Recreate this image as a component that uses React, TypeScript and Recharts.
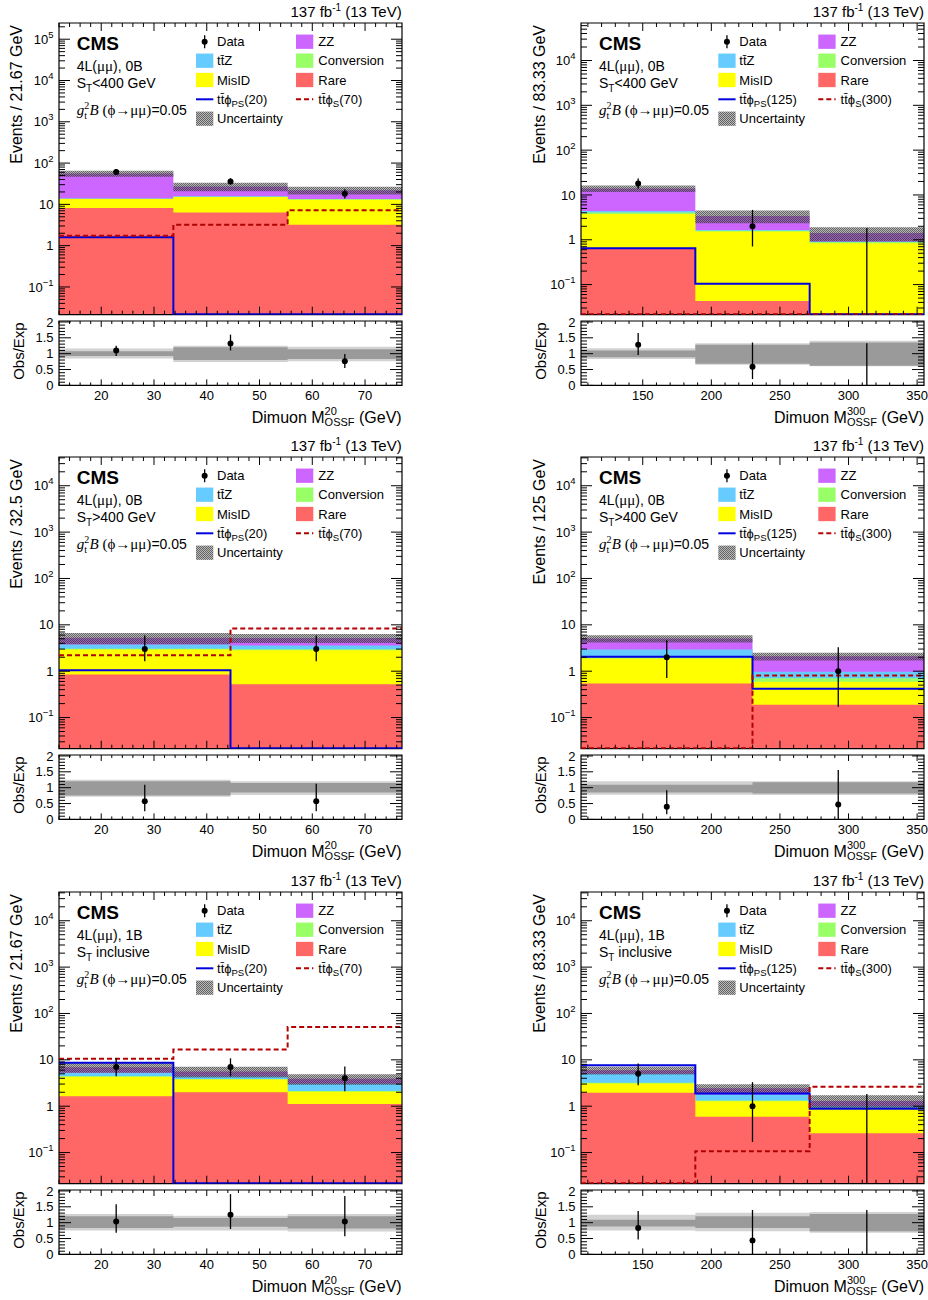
import React from 'react';
import { ComposedChart, Area, Line, Scatter, ErrorBar, XAxis, YAxis, ReferenceArea } from 'recharts';

const SANS = '"Liberation Sans", Arial, Helvetica, sans-serif';
const SERIF = '"Liberation Serif", "Times New Roman", serif';

// ---------------- binning / ticks ----------------
const EDGES_LOW3 = [12, 33.67, 55.33, 77];
const EDGES_LOW2 = [12, 44.5, 77];
const EDGES_HIGH3 = [105, 188.33, 271.67, 355];
const EDGES_HIGH2 = [105, 230, 355];
const PANEL_EDGES = [EDGES_LOW3, EDGES_HIGH3, EDGES_LOW2, EDGES_HIGH2, EDGES_LOW3, EDGES_HIGH3];

const X_MAJOR_LOW = [20, 30, 40, 50, 60, 70];
const X_MAJOR_HIGH = [150, 200, 250, 300, 350];
const X_MINOR_STEP = [2, 10];
const RATIO_MAJOR = [0, 0.5, 1, 1.5, 2];
const RATIO_LABELS = ['0', '0.5', '1', '1.5', '2'];

// ---------------- backgrounds (per panel, per bin) ----------------
const RARE = [[8.2, 6.4, 3.2], [0.63, 0.043, 0], [0.85, 0.52], [0.54, 0.19], [1.64, 2.0, 1.12], [1.94, 0.59, 0.26]];
const MISID = [[5.3, 8.7, 9.8], [3.12, 1.49, 0.84], [2.09, 2.32], [1.34, 0.4], [2.66, 1.76, 0.92], [1.15, 0.69, 0.62]];
const CONV = [[0.2, 0.3, 0.3], [0.32, 0.06, 0.05], [0.1, 0.15], [0.1, 0.11], [0.1, 0.1, 0.08], [0.1, 0.05, 0.02]];
const TTZ = [[0.25, 0.3, 0.2], [0.3, 0.06, 0.02], [0.72, 0.6], [0.96, 0.27], [0.85, 0.54, 0.92], [1.79, 0.46, 0.1]];
const ZZ = [[42, 11.3, 8.6], [9.6, 1.75, 0.5], [1.49, 1.6], [2.13, 1.13], [1.7, 1.2, 0.85], [1.0, 0.64, 0.3]];
const UNC = [[9, 6.3, 4.7], [2.3, 1.07, 0.5], [1.45, 1.15], [0.9, 0.4], [1.7, 1.45, 1.0], [1.15, 0.55, 0.42]];

// ---------------- signals ----------------
const SIG_PS = [[1.59, 0, 0], [0.65, 0.104, 0], [1.05, 0], [2.04, 0.42], [8.6, 0, 0], [7.65, 1.88, 0.88]];
const SIG_S = [[1.75, 3.2, 7.2], [0, 0, 0], [2.2, 8.3], [0, 0.81], [10.5, 16.7, 51], [0, 0.107, 2.62]];

// ---------------- data ----------------
const DATA = [[61, 36, 18], [18, 2, 0], [3, 3], [2, 1], [7, 7, 4], [5, 1, 0]];
const DATA_LO = [[7.8, 6.0, 4.2], [4.2, 1.29, 0], [1.37, 1.37], [1.29, 0.83], [2.58, 2.58, 1.91], [2.16, 0.83, 0]];
const DATA_HI = [[8.8, 7.0, 5.3], [5.3, 2.64, 1.84], [2.92, 2.92], [2.64, 2.3], [3.77, 3.77, 3.16], [3.38, 2.3, 1.84]];

// ---------------- ratio ----------------
const RATIO = [[1.1, 1.32, 0.76], [1.28, 0.59, 0], [0.57, 0.57], [0.4, 0.47], [1.04, 1.25, 1.04], [0.83, 0.44, 0]];
const RATIO_LO = [[0.17, 0.22, 0.21], [0.32, 0.39, 0], [0.31, 0.31], [0.24, 0.47], [0.36, 0.45, 0.47], [0.36, 0.44, 0]];
const RATIO_HI = [[0.15, 0.28, 0.23], [0.37, 0.76, 1.33], [0.52, 0.55], [0.52, 1.09], [0.54, 0.65, 0.8], [0.54, 0.96, 1.4]];
const BAND_OUT = [
  [[0.85, 1.16], [0.74, 1.25], [0.76, 1.22]],
  [[0.83, 1.17], [0.65, 1.33], [0.6, 1.41]],
  [[0.71, 1.25], [0.77, 1.2]],
  [[0.78, 1.2], [0.77, 1.2]],
  [[0.75, 1.27], [0.75, 1.22], [0.72, 1.27]],
  [[0.75, 1.25], [0.73, 1.31], [0.68, 1.34]],
];
const BAND_IN = [
  [[0.93, 1.08], [0.8, 1.2], [0.83, 1.14]],
  [[0.89, 1.1], [0.68, 1.28], [0.62, 1.35]],
  [[0.75, 1.2], [0.85, 1.15]],
  [[0.85, 1.09], [0.82, 1.17]],
  [[0.83, 1.2], [0.87, 1.15], [0.82, 1.2]],
  [[0.88, 1.09], [0.83, 1.2], [0.73, 1.27]],
];

// ---------------- texts ----------------
const CATEGORY = ['0B', '0B', '0B', '0B', '1B', '1B'];
const ST_TEXT = ['<400 GeV', '<400 GeV', '>400 GeV', '>400 GeV', ' inclusive', ' inclusive'];
const Y_TITLES = ['Events / 21.67 GeV', 'Events / 83.33 GeV', 'Events / 32.5 GeV', 'Events / 125 GeV', 'Events / 21.67 GeV', 'Events / 83.33 GeV'];
const PS_MASS = ['20', '125', '20', '125', '20', '125'];
const S_MASS = ['70', '300', '70', '300', '70', '300'];
const X_SUP = ['20', '300', '20', '300', '20', '300'];
const PHI = '\u03d5';

// ---------------- colours ----------------
const C_RARE = '#ff6666';
const C_MISID = '#ffff00';
const C_CONV = '#99ff66';
const C_TTZ = '#66ccff';
const C_ZZ = '#cc66ff';
const C_PS = '#0000dd';
const C_S = '#b40000';
const C_BAND_OUT = '#d2d2d2';
const C_BAND_IN = '#9a9a9a';

// ---------------- layout ----------------
const COL_FL = [58.7, 581];
const ROW_FT = [23.3, 457.3, 892.3];
const PW = 343;
const MPH = 291.7;
const RPH = 64.4;
const RGAP = 298;
const YAW = 60;
const PT = 6;
const PR = 8;
const PB = 6;
const RPB = 24;
const TM = 4;
const YMIN = 0.0213;
const YMAX = [2.47e5, 6.87e4, 4.17e4, 4.17e4, 4.17e4, 4.17e4];
const RMAX = 2.03;

const fl = (v: number) => Math.max(v, YMIN);
const lf = (v: number) => (v > 0 ? v : YMIN * 1.02);

function xTicksFor(p: number) {
  const col = p % 2;
  const edges = PANEL_EDGES[p];
  const step = X_MINOR_STEP[col];
  const lo = edges[0];
  const hi = edges[edges.length - 1];
  const out: number[] = [];
  for (let k = Math.ceil(lo / step); k * step <= hi + 1e-9; k++) out.push(k * step);
  return out;
}

function logTicks(ymax: number) {
  const out: number[] = [];
  for (let e = -2; e <= 6; e++) {
    for (let m = 1; m <= 9; m++) {
      const v = Number((m * Math.pow(10, e)).toPrecision(6));
      if (v >= YMIN && v <= ymax) out.push(v);
    }
  }
  return out;
}

const RATIO_TICKS: number[] = [];
for (let k = 0; k <= 20; k++) RATIO_TICKS.push(k / 10);

const xTickFactory = (plotH: number, majors: number[], showLabels: boolean, majLen: number, minLen: number) =>
  (props: any) => {
    const { x, y, payload } = props;
    const v = payload.value;
    const ay = y - TM;
    const major = majors.some((m) => Math.abs(m - v) < 1e-6);
    const len = major ? majLen : minLen;
    return (
      <g>
        <line x1={x} x2={x} y1={ay} y2={ay - len} stroke="#000" strokeWidth={1} />
        <line x1={x} x2={x} y1={ay - plotH} y2={ay - plotH + len} stroke="#000" strokeWidth={1} />
        {showLabels && major ? (
          <text x={x} y={ay + 14.5} textAnchor="middle" fontFamily={SANS} fontSize={13} fill="#000">
            {v}
          </text>
        ) : null}
      </g>
    );
  };

const logYTick = (props: any) => {
  const { x, y, payload } = props;
  const v = payload.value;
  const ax = x + TM;
  const e = Math.round(Math.log10(v));
  const major = Math.abs(v / Math.pow(10, e) - 1) < 1e-6;
  const len = major ? 11 : 6;
  let label: any = null;
  if (major) {
    if (e === 0 || e === 1) {
      label = (
        <text x={ax - 5.5} y={y + 4.6} textAnchor="end" fontFamily={SANS} fontSize={13} fill="#000">
          {e === 0 ? '1' : '10'}
        </text>
      );
    } else {
      label = (
        <text x={ax - 5.5} y={y + 4.6} textAnchor="end" fontFamily={SANS} fontSize={13} fill="#000">
          10
          <tspan dy={-6} fontSize={9.5}>{e < 0 ? '\u2212' + Math.abs(e) : String(e)}</tspan>
        </text>
      );
    }
  }
  return (
    <g>
      <line x1={ax} x2={ax + len} y1={y} y2={y} stroke="#000" strokeWidth={1} />
      <line x1={ax + PW} x2={ax + PW - len} y1={y} y2={y} stroke="#000" strokeWidth={1} />
      {label}
    </g>
  );
};

const ratioYTick = (props: any) => {
  const { x, y, payload } = props;
  const v = payload.value;
  const ax = x + TM;
  const idx = RATIO_MAJOR.findIndex((m) => Math.abs(m - v) < 1e-6);
  const len = idx >= 0 ? 12 : 6;
  return (
    <g>
      <line x1={ax} x2={ax + len} y1={y} y2={y} stroke="#000" strokeWidth={1} />
      <line x1={ax + PW} x2={ax + PW - len} y1={y} y2={y} stroke="#000" strokeWidth={1} />
      {idx >= 0 ? (
        <text x={ax - 5.5} y={y + 4.6} textAnchor="end" fontFamily={SANS} fontSize={13} fill="#000">
          {RATIO_LABELS[idx]}
        </text>
      ) : null}
    </g>
  );
};

const dotShape = (props: any) => <circle cx={props.cx} cy={props.cy} r={3} fill="#000" />;
const noShape = () => <g />;

function MainChart({ p }: { p: number }) {
  const edges = PANEL_EDGES[p];
  const n = edges.length - 1;
  const rows = edges.map((x, i) => {
    const b = Math.min(i, n - 1);
    const c0 = RARE[p][b];
    const c1 = c0 + MISID[p][b];
    const c2 = c1 + CONV[p][b];
    const c3 = c2 + TTZ[p][b];
    const c4 = c3 + ZZ[p][b];
    return {
      x,
      zz: fl(c4),
      ttz: fl(c3),
      conv: fl(c2),
      misid: fl(c1),
      rare: fl(c0),
      unc: [fl(c4 - UNC[p][b]), c4 + UNC[p][b]],
      ps: lf(SIG_PS[p][b]),
      sig: lf(SIG_S[p][b]),
    };
  });
  const centers = DATA[p].map((_, i) => (edges[i] + edges[i + 1]) / 2);
  const pts = DATA[p]
    .map((d, i) => ({ x: centers[i], y: d, err: [DATA_LO[p][i], DATA_HI[p][i]] }))
    .filter((d) => d.y > 0);
  const zeros = DATA[p]
    .map((d, i) => ({ x: centers[i], y: YMIN, err: [0, DATA_HI[p][i] - YMIN], raw: d }))
    .filter((d) => d.raw === 0);
  const col = p % 2;
  const majors = col === 0 ? X_MAJOR_LOW : X_MAJOR_HIGH;
  const xmin = edges[0];
  const xmax = edges[n];
  const ymax = YMAX[p];
  const flx = COL_FL[col];
  const ft = ROW_FT[Math.floor(p / 2)];
  const areaCommon = { type: 'stepAfter' as const, baseValue: YMIN, stroke: 'none', fillOpacity: 1, isAnimationActive: false, dot: false, activeDot: false };
  return (
    <div style={{ position: 'absolute', left: flx - YAW, top: ft - PT }}>
      <ComposedChart width={YAW + PW + PR} height={PT + MPH + PB} data={rows} margin={{ top: PT, right: PR, bottom: 0, left: 0 }}>
        <Area dataKey="zz" fill={C_ZZ} {...areaCommon} />
        <Area dataKey="ttz" fill={C_TTZ} {...areaCommon} />
        <Area dataKey="conv" fill={C_CONV} {...areaCommon} />
        <Area dataKey="misid" fill={C_MISID} {...areaCommon} />
        <Area dataKey="rare" fill={C_RARE} {...areaCommon} />
        <Area dataKey="unc" type="stepAfter" fill="url(#hatchUnc)" fillOpacity={1} stroke="none" isAnimationActive={false} dot={false} activeDot={false} />
        <Line dataKey="ps" type="stepAfter" stroke={C_PS} strokeWidth={2} dot={false} activeDot={false} isAnimationActive={false} />
        <Line dataKey="sig" type="stepAfter" stroke={C_S} strokeWidth={2} strokeDasharray="5 3" dot={false} activeDot={false} isAnimationActive={false} />
        <Scatter data={pts} dataKey="y" fill="#000" shape={dotShape} isAnimationActive={false}>
          <ErrorBar dataKey="err" direction="y" width={0} stroke="#000" strokeWidth={1.3} />
        </Scatter>
        <Scatter data={zeros} dataKey="y" fill="#000" shape={noShape} isAnimationActive={false}>
          <ErrorBar dataKey="err" direction="y" width={0} stroke="#000" strokeWidth={1.3} />
        </Scatter>
        <ReferenceArea x1={xmin} x2={xmax} y1={YMIN} y2={ymax} fill="none" stroke="#000" strokeWidth={1.2} ifOverflow="visible" />
        <XAxis dataKey="x" type="number" domain={[xmin, xmax]} allowDataOverflow ticks={xTicksFor(p)} interval={0} height={PB}
          tickSize={0} tickMargin={TM} axisLine={false} tickLine={false} tick={xTickFactory(MPH, majors, false, 8, 4)} />
        <YAxis type="number" scale="log" domain={[YMIN, ymax]} allowDataOverflow ticks={logTicks(ymax)} interval={0} width={YAW}
          tickSize={0} tickMargin={TM} axisLine={false} tickLine={false} tick={logYTick} />
      </ComposedChart>
    </div>
  );
}

function RatioChart({ p }: { p: number }) {
  const edges = PANEL_EDGES[p];
  const n = edges.length - 1;
  const rows = edges.map((x, i) => {
    const b = Math.min(i, n - 1);
    return { x, out: BAND_OUT[p][b], inn: BAND_IN[p][b] };
  });
  const centers = RATIO[p].map((_, i) => (edges[i] + edges[i + 1]) / 2);
  const pts = RATIO[p]
    .map((r, i) => ({ x: centers[i], y: r, err: [RATIO_LO[p][i], RATIO_HI[p][i]] }))
    .filter((d) => d.y > 0);
  const zeros = RATIO[p]
    .map((r, i) => ({ x: centers[i], y: 0, err: [0, RATIO_HI[p][i]], raw: r }))
    .filter((d) => d.raw === 0);
  const col = p % 2;
  const majors = col === 0 ? X_MAJOR_LOW : X_MAJOR_HIGH;
  const xmin = edges[0];
  const xmax = edges[n];
  const flx = COL_FL[col];
  const rt = ROW_FT[Math.floor(p / 2)] + RGAP;
  return (
    <div style={{ position: 'absolute', left: flx - YAW, top: rt - PT }}>
      <ComposedChart width={YAW + PW + PR} height={PT + RPH + RPB} data={rows} margin={{ top: PT, right: PR, bottom: 0, left: 0 }}>
        <Area dataKey="out" type="stepAfter" fill={C_BAND_OUT} fillOpacity={1} stroke="none" isAnimationActive={false} dot={false} activeDot={false} />
        <Area dataKey="inn" type="stepAfter" fill={C_BAND_IN} fillOpacity={1} stroke="none" isAnimationActive={false} dot={false} activeDot={false} />
        <Scatter data={pts} dataKey="y" fill="#000" shape={dotShape} isAnimationActive={false}>
          <ErrorBar dataKey="err" direction="y" width={0} stroke="#000" strokeWidth={1.3} />
        </Scatter>
        <Scatter data={zeros} dataKey="y" fill="#000" shape={noShape} isAnimationActive={false}>
          <ErrorBar dataKey="err" direction="y" width={0} stroke="#000" strokeWidth={1.3} />
        </Scatter>
        <ReferenceArea x1={xmin} x2={xmax} y1={0} y2={RMAX} fill="none" stroke="#000" strokeWidth={1.2} ifOverflow="visible" />
        <XAxis dataKey="x" type="number" domain={[xmin, xmax]} allowDataOverflow ticks={xTicksFor(p)} interval={0} height={RPB}
          tickSize={0} tickMargin={TM} axisLine={false} tickLine={false} tick={xTickFactory(RPH, majors, true, 6, 3)} />
        <YAxis type="number" domain={[0, RMAX]} allowDataOverflow ticks={RATIO_TICKS} interval={0} width={YAW}
          tickSize={0} tickMargin={TM} axisLine={false} tickLine={false} tick={ratioYTick} />
      </ComposedChart>
    </div>
  );
}

function TTbar() {
  return <tspan>t{'t\u0304'}</tspan>;
}

function PanelText({ p }: { p: number }) {
  const col = p % 2;
  const fx = COL_FL[col];
  const ft = ROW_FT[Math.floor(p / 2)];
  const fr = fx + PW;
  const rt = ft + RGAP;
  const rb = rt + RPH;
  const rowsY = [18.4, 37.4, 56.7, 76, 95.4].map((d) => ft + d);
  const c1 = fx + 137.3;
  const c2 = fx + 237.3;
  const t1 = fx + 158.3;
  const t2 = fx + 259.6;
  const sq = (x: number, cy: number, fill: string) => <rect x={x} y={cy - 7.15} width={17.3} height={14.3} fill={fill} />;
  const lt = (x: number, cy: number, content: any) => (
    <text x={x} y={cy + 4.6} fontFamily={SANS} fontSize={13} fill="#000">{content}</text>
  );
  const supW = X_SUP[p].length * 0.556 * 11;
  return (
    <g>
      <text x={fr} y={ft - 6} textAnchor="end" fontFamily={SANS} fontSize={15} fill="#000">
        137 fb<tspan dy={-6} fontSize={10}>-1</tspan><tspan dy={6}> (13 TeV)</tspan>
      </text>
      <text x={fx + 18} y={ft + 26.7} fontFamily={SANS} fontWeight="bold" fontSize={19} fill="#000">CMS</text>
      <text x={fx + 18} y={ft + 47.7} fontFamily={SANS} fontSize={14} fill="#000">
        4L(<tspan fontFamily={SERIF} fontSize={15}>{'\u03bc\u03bc'}</tspan>), {CATEGORY[p]}
      </text>
      <text x={fx + 18} y={ft + 65} fontFamily={SANS} fontSize={14} fill="#000">
        S<tspan dy={3.5} fontSize={10}>T</tspan><tspan dy={-3.5}>{ST_TEXT[p]}</tspan>
      </text>
      <text x={fx + 18} y={ft + 91.7} fontFamily={SANS} fontSize={14} fill="#000">
        <tspan fontFamily={SERIF} fontStyle="italic" fontSize={15}>g</tspan>
        <tspan fontFamily={SERIF} fontSize={10} dy={-6}>2</tspan>
        <tspan fontFamily={SERIF} fontSize={10} dx={-5} dy={10}>t</tspan>
        <tspan fontFamily={SERIF} fontStyle="italic" fontSize={15} dx={2.5} dy={-4}>B</tspan>
        <tspan fontFamily={SERIF} fontSize={15}>{' (' + PHI + '\u2192\u03bc\u03bc)'}</tspan>
        <tspan>=0.05</tspan>
      </text>
      <line x1={c1 + 8.65} x2={c1 + 8.65} y1={rowsY[0] - 6.5} y2={rowsY[0] + 6.5} stroke="#000" strokeWidth={1.3} />
      <circle cx={c1 + 8.65} cy={rowsY[0]} r={3} fill="#000" />
      {lt(t1, rowsY[0], 'Data')}
      {sq(c1, rowsY[1], C_TTZ)}
      {lt(t1, rowsY[1], <><TTbar />Z</>)}
      {sq(c1, rowsY[2], C_MISID)}
      {lt(t1, rowsY[2], 'MisID')}
      <line x1={c1} x2={c1 + 17.3} y1={rowsY[3]} y2={rowsY[3]} stroke={C_PS} strokeWidth={2} />
      {lt(t1, rowsY[3], <><TTbar />{PHI}<tspan dy={3.5} fontSize={9.5}>PS</tspan><tspan dy={-3.5}>({PS_MASS[p]})</tspan></>)}
      {sq(c1, rowsY[4], 'url(#hatchUnc)')}
      {lt(t1, rowsY[4], 'Uncertainty')}
      {sq(c2, rowsY[0], C_ZZ)}
      {lt(t2, rowsY[0], 'ZZ')}
      {sq(c2, rowsY[1], C_CONV)}
      {lt(t2, rowsY[1], 'Conversion')}
      {sq(c2, rowsY[2], C_RARE)}
      {lt(t2, rowsY[2], 'Rare')}
      <line x1={c2} x2={c2 + 17.3} y1={rowsY[3]} y2={rowsY[3]} stroke={C_S} strokeWidth={2} strokeDasharray="5 3" />
      {lt(t2, rowsY[3], <><TTbar />{PHI}<tspan dy={3.5} fontSize={9.5}>S</tspan><tspan dy={-3.5}>({S_MASS[p]})</tspan></>)}
      <text transform={`translate(${fx - 36.4}, ${ft + 1.7}) rotate(-90)`} textAnchor="end" fontFamily={SANS} fontSize={16} fill="#000">
        {Y_TITLES[p]}
      </text>
      <text transform={`translate(${fx - 35.2}, ${rt + 1}) rotate(-90)`} textAnchor="end" fontFamily={SANS} fontSize={15} fill="#000">
        Obs/Exp
      </text>
      <text x={fr} y={rb + 37} textAnchor="end" fontFamily={SANS} fontSize={16} fill="#000">
        Dimuon M<tspan dy={-7.7} fontSize={11}>{X_SUP[p]}</tspan>
        <tspan dx={-supW} dy={11} fontSize={11}>OSSF</tspan>
        <tspan dy={-3.3}> (GeV)</tspan>
      </text>
    </g>
  );
}

const PANELS = [0, 1, 2, 3, 4, 5];

export default function App() {
  return (
    <div style={{ position: 'absolute', left: 0, top: 0, width: 928, height: 1300, background: '#fff', overflow: 'hidden' }}>
      <svg width={0} height={0} style={{ position: 'absolute' }}>
        <defs>
          <pattern id="hatchUnc" width="2" height="2" patternUnits="userSpaceOnUse">
            <rect width="2" height="2" fill="rgba(100,100,100,0.45)" />
            <rect width="1" height="1" fill="rgba(30,30,30,0.55)" />
            <rect x="1" y="1" width="1" height="1" fill="rgba(30,30,30,0.55)" />
          </pattern>
        </defs>
      </svg>
      {PANELS.map((p) => (
        <React.Fragment key={p}>
          <MainChart p={p} />
          <RatioChart p={p} />
        </React.Fragment>
      ))}
      <svg width={928} height={1300} style={{ position: 'absolute', left: 0, top: 0, pointerEvents: 'none' }}>
        {PANELS.map((p) => (
          <PanelText key={p} p={p} />
        ))}
      </svg>
    </div>
  );
}
